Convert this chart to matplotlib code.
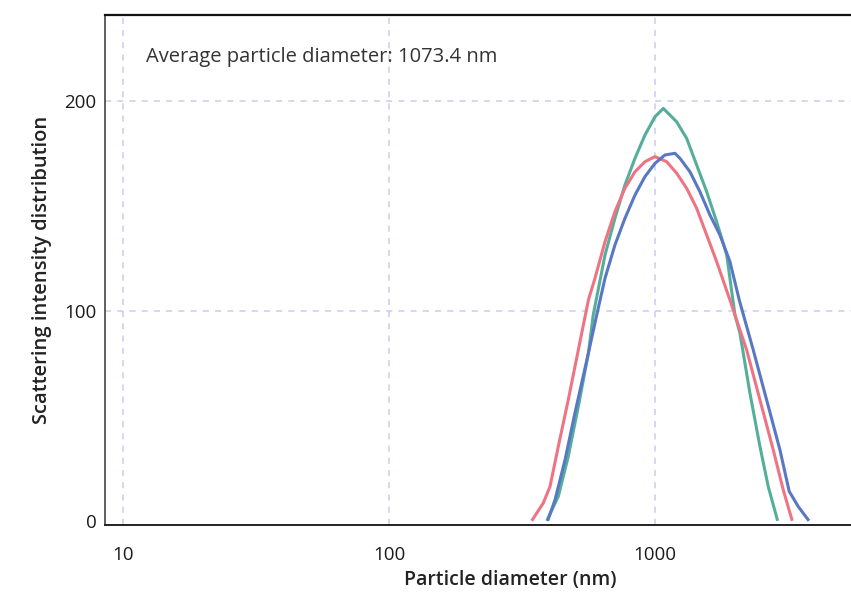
import numpy as np
import matplotlib
matplotlib.use("Agg")
import matplotlib.pyplot as plt

plt.rcParams['font.family'] = ['Open Sans', 'DejaVu Sans']

# particle diameter (nm) / scattering intensity
red_d = [344, 380, 403, 433, 472, 515, 562, 595, 649, 707, 771, 841, 917, 1000,
         1107, 1207, 1316, 1435, 1565, 1706, 1914, 2212, 2482, 2785, 3036, 3283]
red_i = [0, 8.4, 16.3, 35.4, 57.6, 81.4, 105.2, 115.6, 133.0, 147.3, 158.4, 166.3, 171.1, 173.5,
         171.1, 165.6, 158.4, 148.9, 136.2, 123.5, 105.2, 81.4, 57.6, 33.8, 14.8, 0]

green_d = [392, 433, 472, 515, 562, 586, 649, 707, 771, 841, 917, 1000, 1075,
           1207, 1316, 1435, 1565, 1706, 1861, 1999, 2087, 2276, 2482, 2667, 2893]
green_i = [0, 11.6, 30.6, 54.4, 79.9, 98.1, 126.7, 144.1, 160.0, 172.7, 183.8, 192.5, 196.5,
           190.1, 182.2, 169.5, 156.8, 142.5, 126.7, 98.1, 89.4, 60.8, 35.4, 16.3, 0]

blue_d = [395, 421, 459, 500, 562, 604, 649, 707, 771, 841, 917, 1000, 1090, 1189,
          1242, 1354, 1476, 1610, 1755, 1914, 2075, 2342, 2630, 2951, 3198, 3458, 3793]
blue_i = [0, 10.0, 29.0, 51.3, 79.9, 98.1, 115.6, 131.4, 144.1, 155.2, 164.0, 170.3, 174.3, 175.1,
          172.7, 166.3, 156.8, 145.7, 136.2, 123.5, 105.2, 81.4, 57.6, 33.8, 14.0, 6.8, 0]

x_ticks = [10, 100, 1000]
x_tick_labels = ["10", "100", "1000"]
y_ticks = [0, 100, 200]
avg_text = "Average particle diameter: 1073.4 nm"

fig = plt.figure(figsize=(8.51, 5.94), dpi=100)
ax = fig.add_axes([105/851, 1 - 525/594, 1 - 105/851, 510/594])

ax.plot(green_d, green_i, color="#55AE9A", lw=2.2, solid_capstyle="butt", solid_joinstyle="round", zorder=3)
ax.plot(red_d, red_i, color="#EE7484", lw=2.2, solid_capstyle="butt", solid_joinstyle="round", zorder=3)
ax.plot(blue_d, blue_i, color="#5878C4", lw=2.2, solid_capstyle="butt", solid_joinstyle="round", zorder=4)

ax.set_xscale("log")
ax.set_xlim(8.55, 5460)
ax.set_ylim(-2, 241)

ax.set_xticks(x_ticks)
ax.set_xticklabels(x_tick_labels)
ax.set_yticks(y_ticks)
ax.minorticks_off()
ax.tick_params(axis="both", length=0, labelsize=13.5, colors="#1a1a1a")
ax.tick_params(axis="x", pad=15)
ax.tick_params(axis="y", pad=6)

for v in x_ticks:
    ax.axvline(v, color="#C9CDEB", lw=1.1, ls=(0, (4, 4)), zorder=1)
for v in y_ticks[1:]:
    ax.axhline(v, color="#C9CDEB", lw=1.1, ls=(0, (4, 4)), zorder=1)

ax.spines["right"].set_visible(False)
ax.spines["top"].set_linewidth(1.6)
ax.spines["top"].set_color("#111111")
ax.spines["left"].set_color("#444444")
ax.spines["bottom"].set_color("#222222")
ax.spines["left"].set_linewidth(1.2)
ax.spines["bottom"].set_linewidth(1.4)

ax.set_xlabel("Particle diameter (nm)", fontsize=14, fontweight="semibold", color="#222222", va="center")
ax.xaxis.set_label_coords((510 - 105) / 746, -(580 - 525) / 510)
ax.set_ylabel("Scattering intensity distribution", fontsize=14.5, fontweight="semibold", color="#222222")
ax.yaxis.set_label_coords(-(105 - 52) / 746, 0.5)

ax.text((146 - 105) / 746, (525 - 57) / 510, avg_text, transform=ax.transAxes,
        fontsize=14.5, color="#333333", ha="left", va="center")

fig.savefig("out.png", dpi=100)
